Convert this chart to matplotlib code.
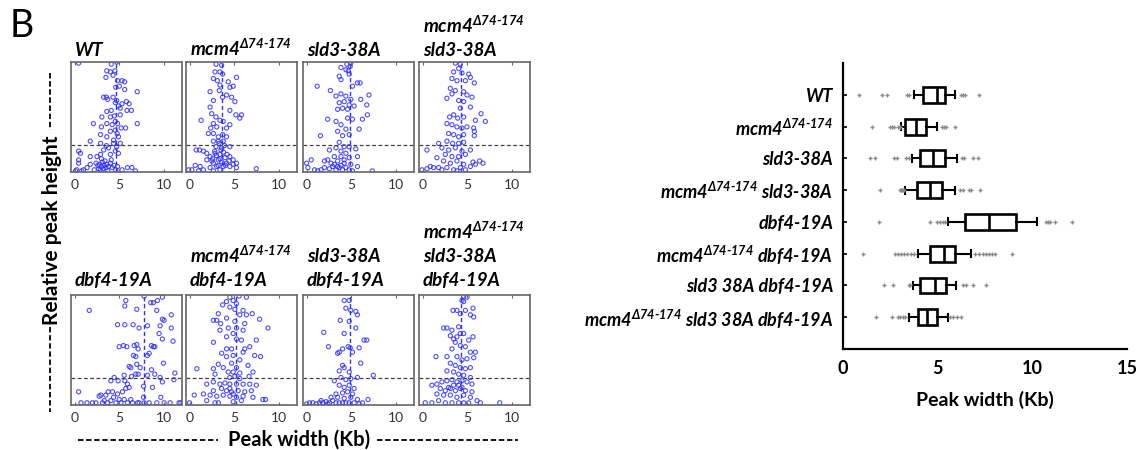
import numpy as np
import matplotlib.pyplot as plt
from matplotlib.lines import Line2D

plt.rcParams['font.family'] = ['Lato', 'DejaVu Sans']
plt.rcParams['mathtext.fontset'] = 'custom'
plt.rcParams['mathtext.it'] = 'Lato:italic:bold'
plt.rcParams['mathtext.rm'] = 'Lato:italic:bold'
plt.rcParams['mathtext.bf'] = 'Lato:italic:bold'

MCM4 = r"mcm4$^{\Delta 74\text{-}174}$"

# --- scatter panels: (peak width Kb, relative peak height) ---
wt_pts = [
    (0.45, 0.99), (4.1, 0.98), (4.7, 1.0), (4.5, 0.92), (3.6, 0.92), (4.3, 0.88), (3.5, 0.86), (4.8, 0.83),
    (5.3, 0.83), (5.6, 0.82), (4.6, 0.77), (5.0, 0.78), (5.6, 0.75), (7.0, 0.73), (4.0, 0.91),
    (3.25, 0.68), (3.55, 0.68), (3.7, 0.66), (4.3, 0.68), (4.7, 0.65), (4.55, 0.63), (4.9, 0.60), (5.3, 0.62),
    (5.8, 0.64), (6.1, 0.62), (6.35, 0.56), (5.85, 0.56), (3.6, 0.55), (4.1, 0.56), (5.1, 0.58),
    (3.05, 0.50), (4.0, 0.50), (4.45, 0.51), (4.55, 0.46), (5.1, 0.52), (7.0, 0.44), (2.1, 0.44), (3.0, 0.41),
    (3.6, 0.44), (4.2, 0.43), (4.8, 0.44), (4.55, 0.38), (5.2, 0.40), (5.7, 0.40), (4.0, 0.37), (4.75, 0.35),
    (4.9, 0.32), (4.35, 0.29), (3.6, 0.32), (2.9, 0.34), (1.75, 0.28), (2.9, 0.26), (3.55, 0.24), (4.35, 0.26),
    (5.1, 0.26), (4.7, 0.23), (3.8, 0.22), (3.25, 0.20), (4.55, 0.19), (4.0, 0.16), (2.9, 0.16), (4.9, 0.17),
    (0.45, 0.19), (0.65, 0.17), (1.75, 0.14), (0.45, 0.11), (0.45, 0.08), (2.5, 0.14),
    (2.4, 0.08), (2.6, 0.06), (2.8, 0.07), (3.0, 0.05), (3.1, 0.09), (3.3, 0.06), (3.5, 0.04), (3.2, 0.03),
    (2.9, 0.02), (2.7, 0.03), (3.6, 0.07), (3.8, 0.05), (4.0, 0.08), (4.2, 0.04), (4.4, 0.06), (4.6, 0.02),
    (3.4, 0.10), (3.0, 0.12), (4.1, 0.11), (3.7, 0.01), (2.2, 0.02), (4.8, 0.05), (1.4, 0.04), (1.75, 0.07),
    (1.0, 0.02), (0.25, 0.02), (0.1, 0.01), (0.8, 0.01), (5.9, 0.04), (6.4, 0.04), (6.8, 0.01), (5.3, 0.02),
]
mcm4_pts = [
    (2.95, 0.98), (3.58, 0.97), (3.39, 0.91), (2.84, 0.91), (3.69, 0.89), (3.1, 0.83), (2.66, 0.85), (5.24, 0.86),
    (4.32, 0.82), (3.39, 0.79), (4.5, 0.77), (4.87, 0.78), (5.06, 0.64), (5.8, 0.52), (5.17, 0.52), (5.6, 0.49),
    (4.5, 0.56), (1.29, 0.47), (2.29, 0.59), (2.66, 0.65), (3.69, 0.68), (4.13, 0.70), (4.69, 0.68), (3.32, 0.74),
    (2.29, 0.73), (2.47, 0.53), (2.95, 0.50), (2.66, 0.44), (3.39, 0.47), (3.76, 0.46), (4.13, 0.40), (4.5, 0.43),
    (3.03, 0.41), (2.36, 0.40), (2.1, 0.35), (2.66, 0.35), (3.21, 0.32), (3.69, 0.34), (4.13, 0.32), (3.21, 0.28),
    (2.66, 0.28), (3.76, 0.28), (2.95, 0.23), (3.58, 0.22), (4.5, 0.23), (1.55, 0.19), (0.74, 0.20), (1.11, 0.20),
    (1.92, 0.17), (2.29, 0.14), (2.84, 0.17), (3.39, 0.16), (3.95, 0.13), (4.5, 0.14), (4.87, 0.11), (2.66, 0.08),
    (1.92, 0.11), (1.18, 0.05), (0.63, 0.06), (0.26, 0.02), (-0.1, 0.02), (1.55, 0.02), (2.29, 0.04), (3.03, 0.05),
    (3.76, 0.05), (4.5, 0.05), (5.24, 0.04), (5.24, 0.08), (7.45, 0.03), (1.0, 0.01), (2.66, 0.01), (3.39, 0.02),
    (4.13, 0.08), (4.87, 0.07), (3.21, 0.11), (2.58, 0.12), (3.0, 0.15), (3.4, 0.12), (3.8, 0.18), (4.2, 0.16),
    (3.6, 0.09), (4.0, 0.06), (2.5, 0.10), (3.2, 0.06), (4.4, 0.10), (3.5, 0.20), (3.9, 0.24), (3.3, 0.26), (2.8, 0.19),
]
sld3_pts = [
    (4.94, 0.99), (4.5, 0.98), (4.87, 0.96), (3.84, 0.95), (4.39, 0.93), (4.65, 0.92), (3.65, 0.87), (3.84, 0.84),
    (4.76, 0.89), (5.68, 0.81), (5.98, 0.81), (5.13, 0.78), (1.18, 0.78), (2.66, 0.74), (3.84, 0.71), (4.39, 0.69),
    (3.28, 0.69), (6.97, 0.70), (4.94, 0.66), (6.05, 0.66), (4.2, 0.64), (3.65, 0.63), (4.76, 0.61), (5.31, 0.60),
    (6.72, 0.61), (4.02, 0.58), (4.58, 0.57), (3.47, 0.57), (6.79, 0.52), (2.36, 0.48), (3.28, 0.46), (3.84, 0.43),
    (4.58, 0.49), (5.13, 0.48), (6.24, 0.48), (5.87, 0.39), (4.39, 0.39), (3.47, 0.37), (4.76, 0.34), (4.02, 0.33),
    (1.55, 0.33), (3.65, 0.27), (4.2, 0.23), (4.76, 0.23), (3.28, 0.22), (2.55, 0.20), (3.84, 0.19), (4.39, 0.17),
    (5.5, 0.21), (3.1, 0.14), (3.84, 0.14), (4.76, 0.13), (5.68, 0.14), (2.0, 0.10), (2.36, 0.11), (2.73, 0.08),
    (3.47, 0.10), (4.2, 0.08), (4.94, 0.07), (5.68, 0.05), (0.0, 0.08), (0.52, 0.11), (0.15, 0.04), (0.89, 0.02),
    (1.25, 0.01), (1.62, 0.02), (2.0, 0.04), (2.55, 0.03), (2.92, 0.05), (3.28, 0.02), (3.65, 0.04), (4.02, 0.02),
    (4.39, 0.04), (4.76, 0.02), (5.13, 0.01), (7.34, 0.01), (3.1, 0.07), (3.84, 0.06), (3.47, 0.05), (4.2, 0.11),
]
mcm4_sld3_pts = [
    (3.66, 0.99), (4.22, 0.98), (4.03, 0.94), (3.47, 0.91), (4.4, 0.90), (5.15, 0.89), (5.34, 0.86), (3.28, 0.85),
    (3.84, 0.83), (5.78, 0.81), (4.78, 0.83), (3.1, 0.76), (3.66, 0.74), (3.28, 0.71), (4.59, 0.73), (4.96, 0.70),
    (5.52, 0.68), (2.72, 0.67), (4.03, 0.65), (4.59, 0.64), (5.34, 0.59), (4.22, 0.58), (3.47, 0.52), (3.02, 0.50),
    (3.92, 0.49), (4.59, 0.50), (6.53, 0.53), (5.9, 0.47), (7.01, 0.46), (2.72, 0.44), (3.28, 0.43), (3.84, 0.41),
    (4.4, 0.40), (4.96, 0.41), (5.71, 0.40), (2.91, 0.35), (3.47, 0.34), (4.03, 0.32), (4.59, 0.34), (5.78, 0.37),
    (5.78, 0.33), (2.72, 0.28), (3.36, 0.26), (4.03, 0.26), (4.59, 0.27), (1.79, 0.26), (0.49, 0.20), (2.16, 0.22),
    (2.91, 0.20), (3.66, 0.22), (4.4, 0.19), (5.34, 0.20), (2.54, 0.16), (3.28, 0.14), (4.03, 0.14), (4.78, 0.16),
    (1.6, 0.13), (2.35, 0.10), (3.1, 0.08), (3.84, 0.10), (4.59, 0.07), (5.63, 0.09), (6.38, 0.10), (6.75, 0.08),
    (5.9, 0.07), (5.34, 0.05), (0.86, 0.05), (1.23, 0.04), (-0.07, 0.02), (0.49, 0.03), (1.79, 0.04), (2.72, 0.04),
    (3.47, 0.02), (4.22, 0.04), (4.78, 0.02), (3.84, 0.01), (2.16, 0.02),
]
dbf4_pts = [
    (1.64, 0.86), (5.72, 0.95), (5.61, 0.90), (6.95, 0.87), (7.77, 0.99), (8.51, 0.93), (8.8, 0.93), (9.26, 0.95),
    (9.81, 0.98), (9.18, 0.86), (10.8, 0.82), (9.81, 0.78), (10.0, 0.77), (4.8, 0.73), (5.61, 0.73), (6.54, 0.73),
    (7.21, 0.70), (8.14, 0.72), (9.55, 0.72), (10.8, 0.70), (9.44, 0.65), (9.81, 0.60), (11.0, 0.58), (4.98, 0.53),
    (5.46, 0.54), (5.84, 0.53), (6.65, 0.54), (6.95, 0.55), (7.1, 0.51), (8.59, 0.54), (8.81, 0.53), (8.96, 0.53),
    (6.58, 0.45), (6.84, 0.44), (8.14, 0.45), (8.33, 0.47), (6.1, 0.35), (6.28, 0.34), (6.95, 0.37), (7.32, 0.34),
    (9.93, 0.38), (8.59, 0.32), (8.96, 0.28), (4.42, 0.25), (5.54, 0.27), (6.36, 0.26), (6.84, 0.28), (7.1, 0.28),
    (8.14, 0.27), (9.55, 0.25), (11.2, 0.29), (11.1, 0.23), (9.81, 0.21), (8.7, 0.16), (9.63, 0.07), (4.05, 0.22),
    (4.87, 0.22), (5.61, 0.22), (5.91, 0.19), (5.72, 0.15), (6.1, 0.16), (5.35, 0.12), (4.8, 0.10), (4.24, 0.12),
    (3.75, 0.12), (3.49, 0.09), (2.94, 0.09), (2.75, 0.08), (4.35, 0.07), (4.98, 0.05), (5.54, 0.05), (6.28, 0.05),
    (7.03, 0.02), (7.7, 0.17), (7.7, 0.07), (0.45, 0.12), (0.71, 0.02), (1.38, 0.02), (2.0, 0.02), (2.38, 0.02),
    (3.12, 0.02), (3.68, 0.02), (4.61, 0.02), (6.47, 0.02), (7.21, 0.02), (7.77, 0.02), (8.33, 0.02), (9.18, 0.02),
    (10.0, 0.02), (10.67, 0.02), (11.67, 0.02), (11.86, 0.02), (5.91, 0.02), (5.17, 0.02), (3.31, 0.04), (4.05, 0.04),
]
mcm4_dbf4_pts = [
    (4.5, 0.98), (5.54, 0.99), (6.35, 0.98), (4.87, 0.95), (4.13, 0.94), (3.69, 0.91), (4.5, 0.89), (5.24, 0.92),
    (5.06, 0.87), (5.98, 0.86), (5.61, 0.82), (6.35, 0.82), (7.0, 0.83), (3.21, 0.83), (2.66, 0.77), (3.03, 0.77),
    (4.13, 0.79), (5.06, 0.76), (6.16, 0.74), (7.82, 0.78), (8.75, 0.70), (3.47, 0.74), (4.32, 0.70), (5.24, 0.70),
    (5.98, 0.68), (4.87, 0.65), (4.13, 0.62), (3.39, 0.68), (5.24, 0.60), (5.79, 0.59), (7.45, 0.59), (2.66, 0.57),
    (4.13, 0.51), (4.69, 0.51), (6.16, 0.51), (6.72, 0.53), (3.58, 0.47), (4.13, 0.44), (4.87, 0.45), (5.98, 0.48),
    (7.27, 0.45), (7.93, 0.44), (5.61, 0.41), (3.21, 0.37), (4.69, 0.38), (5.24, 0.34), (6.53, 0.36), (0.81, 0.33),
    (2.66, 0.33), (3.76, 0.34), (4.32, 0.30), (4.87, 0.30), (5.61, 0.29), (7.08, 0.30), (2.84, 0.28), (4.5, 0.25),
    (5.06, 0.26), (5.61, 0.24), (6.64, 0.26), (1.92, 0.19), (2.66, 0.21), (3.39, 0.19), (3.95, 0.20), (4.5, 0.19),
    (5.24, 0.19), (5.98, 0.19), (6.72, 0.19), (7.45, 0.18), (3.58, 0.15), (4.13, 0.13), (4.69, 0.12), (5.43, 0.13),
    (6.16, 0.12), (6.9, 0.13), (2.66, 0.13), (0.52, 0.09), (1.55, 0.10), (2.29, 0.09), (3.03, 0.08), (3.76, 0.09),
    (4.5, 0.08), (5.24, 0.07), (5.98, 0.08), (7.08, 0.07), (8.19, 0.05), (8.49, 0.05), (1.92, 0.04), (2.84, 0.02),
    (3.21, 0.02), (4.87, 0.03), (5.79, 0.04), (0.0, 0.02), (4.87, 0.10), (4.5, 0.15),
]
sld3_dbf4_pts = [
    (4.2, 0.95), (4.76, 0.95), (4.39, 0.88), (4.94, 0.86), (5.5, 0.85), (5.68, 0.82), (3.76, 0.77), (4.76, 0.76),
    (1.92, 0.66), (4.2, 0.65), (5.5, 0.70), (6.42, 0.59), (6.72, 0.59), (2.44, 0.53), (3.65, 0.48), (3.47, 0.47),
    (4.02, 0.51), (4.65, 0.53), (4.87, 0.52), (5.87, 0.52), (5.13, 0.48), (6.05, 0.38), (4.2, 0.34), (4.02, 0.36),
    (3.65, 0.31), (4.76, 0.30), (7.45, 0.27), (3.1, 0.22), (3.84, 0.25), (4.39, 0.23), (4.94, 0.24), (5.68, 0.25),
    (3.65, 0.18), (4.2, 0.16), (4.76, 0.18), (5.31, 0.15), (6.86, 0.05), (3.28, 0.10), (4.02, 0.11), (4.58, 0.12),
    (5.13, 0.10), (2.73, 0.07), (3.47, 0.07), (4.2, 0.06), (4.94, 0.07), (5.68, 0.05), (0.0, 0.01), (0.33, 0.02),
    (0.7, 0.02), (1.07, 0.01), (1.44, 0.02), (1.81, 0.02), (2.18, 0.03), (2.55, 0.02), (2.92, 0.04), (3.28, 0.02),
    (3.65, 0.02), (4.02, 0.02), (4.39, 0.02), (4.76, 0.02), (5.31, 0.02), (5.87, 0.01), (6.24, 0.02), (2.36, 0.01),
    (1.62, 0.04),
]
triple_pts = [
    (4.59, 0.99), (4.96, 0.98), (4.4, 0.95), (4.59, 0.94), (3.4, 0.86), (3.84, 0.86), (4.22, 0.83), (4.78, 0.86),
    (5.63, 0.88), (5.34, 0.82), (5.71, 0.80), (2.35, 0.70), (2.72, 0.70), (3.28, 0.68), (4.03, 0.71), (4.22, 0.65),
    (3.84, 0.62), (3.47, 0.60), (3.1, 0.63), (4.59, 0.65), (5.15, 0.59), (5.63, 0.62), (3.66, 0.57), (4.22, 0.54),
    (4.78, 0.53), (3.28, 0.51), (5.34, 0.48), (5.9, 0.48), (1.49, 0.44), (2.72, 0.44), (3.84, 0.44), (4.4, 0.41),
    (4.96, 0.42), (5.71, 0.43), (3.1, 0.38), (3.66, 0.36), (4.22, 0.34), (4.78, 0.33), (5.34, 0.34), (2.72, 0.31),
    (3.47, 0.30), (4.03, 0.28), (4.59, 0.27), (5.34, 0.25), (1.04, 0.18), (1.6, 0.19), (2.16, 0.21), (2.72, 0.22),
    (3.28, 0.23), (3.84, 0.21), (4.4, 0.22), (4.96, 0.21), (5.52, 0.19), (1.98, 0.15), (2.54, 0.13), (3.1, 0.15),
    (3.66, 0.13), (4.22, 0.15), (4.78, 0.13), (5.52, 0.12), (1.6, 0.10), (2.35, 0.09), (3.1, 0.09), (3.84, 0.07),
    (4.59, 0.09), (5.34, 0.07), (6.08, 0.04), (6.46, 0.02), (0.3, 0.02), (1.04, 0.02), (1.79, 0.04), (2.54, 0.02),
    (3.28, 0.02), (4.03, 0.02), (4.59, 0.02), (5.15, 0.02), (8.62, 0.02), (3.47, 0.18), (4.03, 0.18), (4.4, 0.16),
    (2.91, 0.16),
]
scatter_median = [4.65, 3.66, 4.85, 4.3, 7.7, 5.2, 4.9, 4.3]
scatter_titles = [
    ["WT"], [MCM4], ["sld3-38A"], [MCM4, "sld3-38A"],
    ["dbf4-19A"], [MCM4, "dbf4-19A"], ["sld3-38A", "dbf4-19A"], [MCM4, "sld3-38A", "dbf4-19A"],
]
cutoff = 0.25

# --- box plot summary (Kb) ---
box_labels = ["WT", MCM4, "sld3-38A", MCM4 + " sld3-38A", "dbf4-19A",
              MCM4 + " dbf4-19A", "sld3 38A dbf4-19A", MCM4 + " sld3 38A dbf4-19A"]
box_lo = [3.73, 3.08, 3.64, 3.29, 5.52, 3.94, 3.69, 3.46]
box_q1 = [4.22, 3.30, 4.08, 3.90, 6.45, 4.57, 4.09, 3.94]
box_med = [4.96, 3.87, 4.75, 4.60, 7.72, 5.31, 4.87, 4.46]
box_q3 = [5.40, 4.39, 5.40, 5.22, 9.12, 5.92, 5.43, 4.99]
box_hi = [5.92, 4.96, 6.01, 5.92, 10.26, 6.78, 5.96, 5.52]
box_fliers = [
    [0.83, 2.06, 2.32, 3.37, 3.5, 6.22, 6.35, 6.42, 7.2],
    [1.53, 2.5, 2.58, 2.67, 2.93, 2.99, 3.02, 5.22, 5.34, 5.45, 5.89],
    [1.44, 1.70, 2.67, 2.85, 3.34, 3.46, 6.27, 6.40, 6.85, 7.12],
    [1.97, 3.0, 3.05, 3.1, 3.16, 3.22, 6.19, 6.36, 6.63, 6.75, 7.24],
    [1.88, 4.6, 4.96, 5.13, 5.3, 5.4, 10.72, 10.84, 10.93, 11.2, 12.11],
    [1.04, 2.76, 2.9, 3.05, 3.2, 3.4, 3.6, 3.76, 6.98, 7.2, 7.4, 7.55, 7.7, 7.85, 8.05, 8.91],
    [2.14, 2.64, 3.46, 3.55, 6.33, 6.50, 6.84, 7.56],
    [1.74, 2.58, 2.88, 3.02, 3.15, 3.29, 5.66, 5.83, 6.01, 6.22],
]

W, H = 1141, 450
fig = plt.figure(figsize=(W / 100, H / 100), dpi=100)


def fx(px):
    return px / W


def fy(py):
    return 1 - py / H


all_pts = [wt_pts, mcm4_pts, sld3_pts, mcm4_sld3_pts, dbf4_pts, mcm4_dbf4_pts, sld3_dbf4_pts, triple_pts]
col_left = [71, 186, 303, 419]
row_top = [62, 295]
title_base = [56, 286]
pw, ph = 111, 110

for i, pts in enumerate(all_pts):
    r, c = divmod(i, 4)
    ax = fig.add_axes([fx(col_left[c]), fy(row_top[r] + ph), pw / W, ph / H])
    pts = np.array(pts)
    ax.scatter(pts[:, 0], pts[:, 1], s=9, facecolors='none', edgecolors='#3030ff',
               linewidths=0.8, alpha=0.85)
    ax.axhline(cutoff, color='#404040', ls=(0, (3, 2)), lw=0.9)
    ax.axvline(scatter_median[i], color='#3030ff', ls=(0, (3, 2)), lw=1.0)
    ax.set_xlim(-0.4, 12)
    ax.set_ylim(0, 1)
    ax.set_xticks([0, 5, 10])
    ax.set_yticks([])
    ax.tick_params(axis='x', direction='in', length=2, top=True, labelsize=10,
                   labelcolor='#333333', color='#666666', pad=5)
    for s in ax.spines.values():
        s.set_color('#666666')
        s.set_linewidth(1.2)
    lines = scatter_titles[i]
    for k, line in enumerate(lines):
        yb = title_base[r] - (len(lines) - 1 - k) * 23.5
        fig.text(fx(col_left[c] + 4), fy(yb), line, fontsize=13.5, fontweight='bold',
                 fontstyle='italic', va='baseline', ha='left')

# left panel decorations
fig.text(fx(10), fy(37), 'B', fontsize=27, va='baseline', ha='left')
fig.text(fx(52), fy(230), 'Relative peak height', rotation=90, ha='center', va='center',
         fontsize=15, fontweight='bold')
fig.text(fx(299), fy(440), 'Peak width (Kb)', ha='center', va='center', fontsize=14.5, fontweight='bold')
dash = dict(transform=fig.transFigure, color='black', lw=1.3, ls=(0, (3, 1.5)))
fig.add_artist(Line2D([fx(50), fx(50)], [fy(73), fy(130)], **dash))
fig.add_artist(Line2D([fx(50), fx(50)], [fy(327), fy(412)], **dash))
fig.add_artist(Line2D([fx(78), fx(218)], [fy(440), fy(440)], **dash))
fig.add_artist(Line2D([fx(377), fx(518)], [fy(440), fy(440)], **dash))

# box plot
bx = fig.add_axes([fx(843), fy(349), 284 / W, 286 / H])
stats = []
for i in range(len(box_labels)):
    stats.append(dict(med=box_med[i], q1=box_q1[i], q3=box_q3[i], whislo=box_lo[i],
                      whishi=box_hi[i], fliers=box_fliers[i], label=box_labels[i]))
bx.bxp(stats, positions=range(1, len(stats) + 1), orientation='horizontal', widths=0.5,
       capwidths=0.22, patch_artist=True,
       boxprops=dict(facecolor='white', edgecolor='black', linewidth=1.9),
       medianprops=dict(color='black', linewidth=1.9),
       whiskerprops=dict(color='black', linewidth=1.5),
       capprops=dict(color='black', linewidth=1.5),
       flierprops=dict(marker='+', markersize=3, markeredgecolor='#8a8a8a', linestyle='none'))
bx.set_xlim(0, 15)
bx.set_ylim(len(stats) + 1, 0)
bx.set_xticks([0, 5, 10, 15])
bx.set_xticklabels(['0', '5', '10', '15'], fontsize=13, fontweight='bold')
for t in bx.get_yticklabels():
    t.set_fontsize(13)
    t.set_fontweight('bold')
    t.set_fontstyle('italic')
bx.tick_params(axis='y', direction='in', length=3, width=1.2, pad=7)
bx.tick_params(axis='x', direction='in', length=0, pad=8)
bx.spines['top'].set_visible(False)
bx.spines['right'].set_visible(False)
bx.spines['left'].set_linewidth(1.6)
bx.spines['bottom'].set_linewidth(1.6)
bx.set_xlabel('Peak width (Kb)', fontsize=14, fontweight='bold', labelpad=10)

fig.savefig('out.png', dpi=100)
